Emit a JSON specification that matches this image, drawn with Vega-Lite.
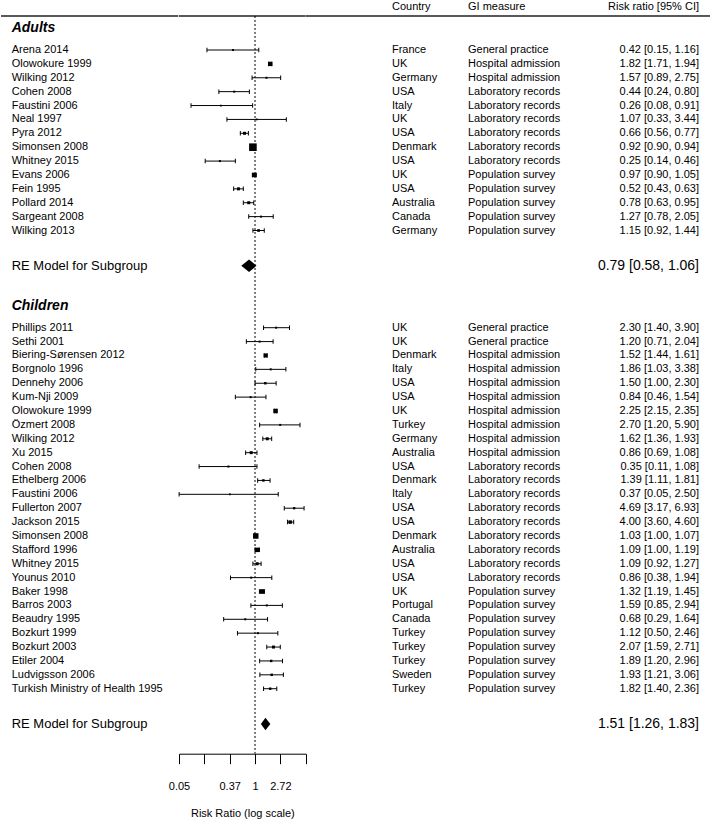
{
  "$schema": "https://vega.github.io/schema/vega-lite/v6.json",
  "padding": 0,
  "spacing": 0,
  "bounds": "flush",
  "background": "white",
  "config": {"view": {"stroke": null}, "font": "Liberation Sans", "text": {"color": "black", "font": "Liberation Sans"}},
  "datasets": {
    "groups": [{"group": "Adults", "row": 0}, {"group": "Children", "row": 20}],
    "pooled": [{"group": "Adults", "rr": 0.79, "lo": 0.58, "hi": 1.06, "row": 17}, {"group": "Children", "rr": 1.51, "lo": 1.26, "hi": 1.83, "row": 50}],
    "studies": [
      {"group": "Adults", "study": "Arena 2014", "country": "France", "measure": "General practice", "rr": 0.42, "lo": 0.15, "hi": 1.16, "weight": 4, "row": 2},
      {"group": "Adults", "study": "Olowokure 1999", "country": "UK", "measure": "Hospital admission", "rr": 1.82, "lo": 1.71, "hi": 1.94, "weight": 18.5, "row": 3},
      {"group": "Adults", "study": "Wilking 2012", "country": "Germany", "measure": "Hospital admission", "rr": 1.57, "lo": 0.89, "hi": 2.75, "weight": 4, "row": 4},
      {"group": "Adults", "study": "Cohen 2008", "country": "USA", "measure": "Laboratory records", "rr": 0.44, "lo": 0.24, "hi": 0.80, "weight": 4, "row": 5},
      {"group": "Adults", "study": "Faustini 2006", "country": "Italy", "measure": "Laboratory records", "rr": 0.26, "lo": 0.08, "hi": 0.91, "weight": 3, "row": 6},
      {"group": "Adults", "study": "Neal 1997", "country": "UK", "measure": "Laboratory records", "rr": 1.07, "lo": 0.33, "hi": 3.44, "weight": 3.2, "row": 7},
      {"group": "Adults", "study": "Pyra 2012", "country": "USA", "measure": "Laboratory records", "rr": 0.66, "lo": 0.56, "hi": 0.77, "weight": 9, "row": 8},
      {"group": "Adults", "study": "Simonsen 2008", "country": "Denmark", "measure": "Laboratory records", "rr": 0.92, "lo": 0.90, "hi": 0.94, "weight": 58, "row": 9},
      {"group": "Adults", "study": "Whitney 2015", "country": "USA", "measure": "Laboratory records", "rr": 0.25, "lo": 0.14, "hi": 0.46, "weight": 4, "row": 10},
      {"group": "Adults", "study": "Evans 2006", "country": "UK", "measure": "Population survey", "rr": 0.97, "lo": 0.90, "hi": 1.05, "weight": 20, "row": 11},
      {"group": "Adults", "study": "Fein 1995", "country": "USA", "measure": "Population survey", "rr": 0.52, "lo": 0.43, "hi": 0.63, "weight": 9, "row": 12},
      {"group": "Adults", "study": "Pollard 2014", "country": "Australia", "measure": "Population survey", "rr": 0.78, "lo": 0.63, "hi": 0.95, "weight": 9, "row": 13},
      {"group": "Adults", "study": "Sargeant 2008", "country": "Canada", "measure": "Population survey", "rr": 1.27, "lo": 0.78, "hi": 2.05, "weight": 4, "row": 14},
      {"group": "Adults", "study": "Wilking 2013", "country": "Germany", "measure": "Population survey", "rr": 1.15, "lo": 0.92, "hi": 1.44, "weight": 7.3, "row": 15},
      {"group": "Children", "study": "Phillips 2011", "country": "UK", "measure": "General practice", "rr": 2.30, "lo": 1.40, "hi": 3.90, "weight": 4, "row": 22},
      {"group": "Children", "study": "Sethi 2001", "country": "UK", "measure": "General practice", "rr": 1.20, "lo": 0.71, "hi": 2.04, "weight": 4, "row": 23},
      {"group": "Children", "study": "Biering-Sørensen 2012", "country": "Denmark", "measure": "Hospital admission", "rr": 1.52, "lo": 1.44, "hi": 1.61, "weight": 16, "row": 24},
      {"group": "Children", "study": "Borgnolo 1996", "country": "Italy", "measure": "Hospital admission", "rr": 1.86, "lo": 1.03, "hi": 3.38, "weight": 4, "row": 25},
      {"group": "Children", "study": "Dennehy 2006", "country": "USA", "measure": "Hospital admission", "rr": 1.50, "lo": 1.00, "hi": 2.30, "weight": 6, "row": 26},
      {"group": "Children", "study": "Kum-Nji 2009", "country": "USA", "measure": "Hospital admission", "rr": 0.84, "lo": 0.46, "hi": 1.54, "weight": 4, "row": 27},
      {"group": "Children", "study": "Olowokure 1999", "country": "UK", "measure": "Hospital admission", "rr": 2.25, "lo": 2.15, "hi": 2.35, "weight": 20, "row": 28},
      {"group": "Children", "study": "Özmert 2008", "country": "Turkey", "measure": "Hospital admission", "rr": 2.70, "lo": 1.20, "hi": 5.90, "weight": 4, "row": 29},
      {"group": "Children", "study": "Wilking 2012", "country": "Germany", "measure": "Hospital admission", "rr": 1.62, "lo": 1.36, "hi": 1.93, "weight": 9, "row": 30},
      {"group": "Children", "study": "Xu 2015", "country": "Australia", "measure": "Hospital admission", "rr": 0.86, "lo": 0.69, "hi": 1.08, "weight": 9, "row": 31},
      {"group": "Children", "study": "Cohen 2008", "country": "USA", "measure": "Laboratory records", "rr": 0.35, "lo": 0.11, "hi": 1.08, "weight": 4, "row": 32},
      {"group": "Children", "study": "Ethelberg 2006", "country": "Denmark", "measure": "Laboratory records", "rr": 1.39, "lo": 1.11, "hi": 1.81, "weight": 6, "row": 33},
      {"group": "Children", "study": "Faustini 2006", "country": "Italy", "measure": "Laboratory records", "rr": 0.37, "lo": 0.05, "hi": 2.50, "weight": 3.2, "row": 34},
      {"group": "Children", "study": "Fullerton 2007", "country": "USA", "measure": "Laboratory records", "rr": 4.69, "lo": 3.17, "hi": 6.93, "weight": 5.3, "row": 35},
      {"group": "Children", "study": "Jackson 2015", "country": "USA", "measure": "Laboratory records", "rr": 4.00, "lo": 3.60, "hi": 4.60, "weight": 12, "row": 36},
      {"group": "Children", "study": "Simonsen 2008", "country": "Denmark", "measure": "Laboratory records", "rr": 1.03, "lo": 1.00, "hi": 1.07, "weight": 30, "row": 37},
      {"group": "Children", "study": "Stafford 1996", "country": "Australia", "measure": "Laboratory records", "rr": 1.09, "lo": 1.00, "hi": 1.19, "weight": 20, "row": 38},
      {"group": "Children", "study": "Whitney 2015", "country": "USA", "measure": "Laboratory records", "rr": 1.09, "lo": 0.92, "hi": 1.27, "weight": 9, "row": 39},
      {"group": "Children", "study": "Younus 2010", "country": "USA", "measure": "Laboratory records", "rr": 0.86, "lo": 0.38, "hi": 1.94, "weight": 4, "row": 40},
      {"group": "Children", "study": "Baker 1998", "country": "UK", "measure": "Population survey", "rr": 1.32, "lo": 1.19, "hi": 1.45, "weight": 22, "row": 41},
      {"group": "Children", "study": "Barros 2003", "country": "Portugal", "measure": "Population survey", "rr": 1.59, "lo": 0.85, "hi": 2.94, "weight": 4, "row": 42},
      {"group": "Children", "study": "Beaudry 1995", "country": "Canada", "measure": "Population survey", "rr": 0.68, "lo": 0.29, "hi": 1.64, "weight": 4, "row": 43},
      {"group": "Children", "study": "Bozkurt 1999", "country": "Turkey", "measure": "Population survey", "rr": 1.12, "lo": 0.50, "hi": 2.46, "weight": 4, "row": 44},
      {"group": "Children", "study": "Bozkurt 2003", "country": "Turkey", "measure": "Population survey", "rr": 2.07, "lo": 1.59, "hi": 2.71, "weight": 9, "row": 45},
      {"group": "Children", "study": "Etiler 2004", "country": "Turkey", "measure": "Population survey", "rr": 1.89, "lo": 1.20, "hi": 2.96, "weight": 6, "row": 46},
      {"group": "Children", "study": "Ludvigsson 2006", "country": "Sweden", "measure": "Population survey", "rr": 1.93, "lo": 1.21, "hi": 3.06, "weight": 6, "row": 47},
      {"group": "Children", "study": "Turkish Ministry of Health 1995", "country": "Turkey", "measure": "Population survey", "rr": 1.82, "lo": 1.40, "hi": 2.36, "weight": 6, "row": 48}
    ]
  },
  "hconcat": [
    {
      "width": 177.3, "height": 750.7,
      "layer": [
        {"data": {"values": [{}]}, "mark": {"type": "rule", "color": "#222222", "strokeWidth": 1.5}, "encoding": {"y": {"datum": -0.45, "type": "quantitative", "scale": {"domain": [-1.385, 52.68], "reverse": true, "nice": false, "zero": false}, "axis": null}}},
        {"data": {"name": "groups"}, "mark": {"type": "text", "align": "left", "baseline": "middle", "dx": 10.7, "yOffset": 6, "fontSize": 14, "fontWeight": "bold", "fontStyle": "italic"}, "encoding": {"x": {"datum": 0, "type": "quantitative", "scale": {"domain": [0, 1]}, "axis": null}, "y": {"field": "row", "type": "quantitative", "scale": {"domain": [-1.385, 52.68], "reverse": true, "nice": false, "zero": false}, "axis": null}, "text": {"field": "group"}}},
        {"data": {"name": "studies"}, "mark": {"type": "text", "align": "left", "baseline": "middle", "dx": 10.7, "fontSize": 11}, "encoding": {"x": {"datum": 0, "type": "quantitative", "scale": {"domain": [0, 1]}, "axis": null}, "y": {"field": "row", "type": "quantitative", "scale": {"domain": [-1.385, 52.68], "reverse": true, "nice": false, "zero": false}, "axis": null}, "text": {"field": "study"}}},
        {"data": {"name": "pooled"}, "mark": {"type": "text", "align": "left", "baseline": "middle", "dx": 10.7, "yOffset": 7.5, "fontSize": 13}, "encoding": {"x": {"datum": 0, "type": "quantitative", "scale": {"domain": [0, 1]}, "axis": null}, "y": {"field": "row", "type": "quantitative", "scale": {"domain": [-1.385, 52.68], "reverse": true, "nice": false, "zero": false}, "axis": null}, "text": {"value": "RE Model for Subgroup"}}}
      ]
    },
    {
      "width": 126.7, "height": 750.7,
      "layer": [
        {"data": {"values": [{}]}, "mark": {"type": "rule", "color": "#222222", "strokeWidth": 1.5}, "encoding": {"y": {"datum": -0.45, "type": "quantitative", "scale": {"domain": [-1.385, 52.68], "reverse": true, "nice": false, "zero": false}, "axis": null}}},
        {"data": {"values": [{}]}, "mark": {"type": "rule", "color": "black", "strokeWidth": 1, "strokeDash": [2, 2]},
         "encoding": {
           "x": {"datum": 1, "type": "quantitative", "scale": {"type": "log", "domain": [0.049787, 7.389056], "nice": false}, "axis": {"values": [0.049787, 0.135335, 0.367879, 1, 2.718282, 7.389056], "labelExpr": "datum.value < 0.1 ? '0.05' : datum.value < 0.2 ? '' : datum.value < 0.5 ? '0.37' : datum.value < 1.5 ? '1' : datum.value < 5 ? '2.72' : ''", "title": "Risk Ratio (log scale)", "grid": false, "tickSize": 10, "tickColor": "black", "tickWidth": 1, "domainColor": "black", "domainWidth": 1, "labelColor": "black", "titleColor": "black", "labelFontSize": 11, "titleFontSize": 11, "titleFontWeight": "normal", "labelPadding": 17, "titlePadding": 16, "labelFlush": false, "labelOverlap": false, "labelFont": "Liberation Sans", "titleFont": "Liberation Sans"}},
           "y": {"datum": -0.45, "type": "quantitative", "scale": {"domain": [-1.385, 52.68], "reverse": true, "nice": false, "zero": false}, "axis": null},
           "y2": {"datum": 52.68}
         }},
        {"data": {"name": "studies"}, "mark": {"type": "rule", "color": "black", "strokeWidth": 1},
         "encoding": {
           "x": {"field": "lo", "type": "quantitative", "scale": {"type": "log", "domain": [0.049787, 7.389056], "nice": false}, "axis": {"values": [0.049787, 0.135335, 0.367879, 1, 2.718282, 7.389056], "labelExpr": "datum.value < 0.1 ? '0.05' : datum.value < 0.2 ? '' : datum.value < 0.5 ? '0.37' : datum.value < 1.5 ? '1' : datum.value < 5 ? '2.72' : ''", "title": "Risk Ratio (log scale)", "grid": false, "tickSize": 10, "tickColor": "black", "tickWidth": 1, "domainColor": "black", "domainWidth": 1, "labelColor": "black", "titleColor": "black", "labelFontSize": 11, "titleFontSize": 11, "titleFontWeight": "normal", "labelPadding": 17, "titlePadding": 16, "labelFlush": false, "labelOverlap": false, "labelFont": "Liberation Sans", "titleFont": "Liberation Sans"}},
           "x2": {"field": "hi"},
           "y": {"field": "row", "type": "quantitative", "scale": {"domain": [-1.385, 52.68], "reverse": true, "nice": false, "zero": false}, "axis": null}
         }},
        {"data": {"name": "studies"}, "mark": {"type": "tick", "orient": "vertical", "color": "black", "size": 4.5, "thickness": 1, "opacity": 1},
         "encoding": {
           "x": {"field": "lo", "type": "quantitative", "scale": {"type": "log", "domain": [0.049787, 7.389056], "nice": false}, "axis": {"values": [0.049787, 0.135335, 0.367879, 1, 2.718282, 7.389056], "labelExpr": "datum.value < 0.1 ? '0.05' : datum.value < 0.2 ? '' : datum.value < 0.5 ? '0.37' : datum.value < 1.5 ? '1' : datum.value < 5 ? '2.72' : ''", "title": "Risk Ratio (log scale)", "grid": false, "tickSize": 10, "tickColor": "black", "tickWidth": 1, "domainColor": "black", "domainWidth": 1, "labelColor": "black", "titleColor": "black", "labelFontSize": 11, "titleFontSize": 11, "titleFontWeight": "normal", "labelPadding": 17, "titlePadding": 16, "labelFlush": false, "labelOverlap": false, "labelFont": "Liberation Sans", "titleFont": "Liberation Sans"}},
           "y": {"field": "row", "type": "quantitative", "scale": {"domain": [-1.385, 52.68], "reverse": true, "nice": false, "zero": false}, "axis": null}
         }},
        {"data": {"name": "studies"}, "mark": {"type": "tick", "orient": "vertical", "color": "black", "size": 4.5, "thickness": 1, "opacity": 1},
         "encoding": {
           "x": {"field": "hi", "type": "quantitative", "scale": {"type": "log", "domain": [0.049787, 7.389056], "nice": false}, "axis": {"values": [0.049787, 0.135335, 0.367879, 1, 2.718282, 7.389056], "labelExpr": "datum.value < 0.1 ? '0.05' : datum.value < 0.2 ? '' : datum.value < 0.5 ? '0.37' : datum.value < 1.5 ? '1' : datum.value < 5 ? '2.72' : ''", "title": "Risk Ratio (log scale)", "grid": false, "tickSize": 10, "tickColor": "black", "tickWidth": 1, "domainColor": "black", "domainWidth": 1, "labelColor": "black", "titleColor": "black", "labelFontSize": 11, "titleFontSize": 11, "titleFontWeight": "normal", "labelPadding": 17, "titlePadding": 16, "labelFlush": false, "labelOverlap": false, "labelFont": "Liberation Sans", "titleFont": "Liberation Sans"}},
           "y": {"field": "row", "type": "quantitative", "scale": {"domain": [-1.385, 52.68], "reverse": true, "nice": false, "zero": false}, "axis": null}
         }},
        {"data": {"name": "studies"}, "mark": {"type": "point", "shape": "square", "filled": true, "color": "black", "opacity": 1, "strokeWidth": 0},
         "encoding": {
           "x": {"field": "rr", "type": "quantitative", "scale": {"type": "log", "domain": [0.049787, 7.389056], "nice": false}, "axis": {"values": [0.049787, 0.135335, 0.367879, 1, 2.718282, 7.389056], "labelExpr": "datum.value < 0.1 ? '0.05' : datum.value < 0.2 ? '' : datum.value < 0.5 ? '0.37' : datum.value < 1.5 ? '1' : datum.value < 5 ? '2.72' : ''", "title": "Risk Ratio (log scale)", "grid": false, "tickSize": 10, "tickColor": "black", "tickWidth": 1, "domainColor": "black", "domainWidth": 1, "labelColor": "black", "titleColor": "black", "labelFontSize": 11, "titleFontSize": 11, "titleFontWeight": "normal", "labelPadding": 17, "titlePadding": 16, "labelFlush": false, "labelOverlap": false, "labelFont": "Liberation Sans", "titleFont": "Liberation Sans"}},
           "y": {"field": "row", "type": "quantitative", "scale": {"domain": [-1.385, 52.68], "reverse": true, "nice": false, "zero": false}, "axis": null},
           "size": {"field": "weight", "type": "quantitative", "scale": {"domain": [0, 60], "range": [0, 60]}, "legend": null}
         }},
        {"data": {"name": "pooled"},
         "transform": [
           {"fold": ["lo", "rr", "hi"], "as": ["k", "v"]},
           {"calculate": "datum.row - (datum.k === 'rr' ? 0.45 : 0)", "as": "top"},
           {"calculate": "datum.row + (datum.k === 'rr' ? 0.45 : 0)", "as": "bot"}
         ],
         "mark": {"type": "area", "color": "black", "opacity": 1, "yOffset": 7.5, "y2Offset": 7.5},
         "encoding": {
           "x": {"field": "v", "type": "quantitative", "scale": {"type": "log", "domain": [0.049787, 7.389056], "nice": false}, "axis": {"values": [0.049787, 0.135335, 0.367879, 1, 2.718282, 7.389056], "labelExpr": "datum.value < 0.1 ? '0.05' : datum.value < 0.2 ? '' : datum.value < 0.5 ? '0.37' : datum.value < 1.5 ? '1' : datum.value < 5 ? '2.72' : ''", "title": "Risk Ratio (log scale)", "grid": false, "tickSize": 10, "tickColor": "black", "tickWidth": 1, "domainColor": "black", "domainWidth": 1, "labelColor": "black", "titleColor": "black", "labelFontSize": 11, "titleFontSize": 11, "titleFontWeight": "normal", "labelPadding": 17, "titlePadding": 16, "labelFlush": false, "labelOverlap": false, "labelFont": "Liberation Sans", "titleFont": "Liberation Sans"}},
           "y": {"field": "top", "type": "quantitative", "scale": {"domain": [-1.385, 52.68], "reverse": true, "nice": false, "zero": false}, "axis": null},
           "y2": {"field": "bot"},
           "detail": {"field": "group"}
         }}
      ]
    },
    {
      "width": 86, "height": 750.7,
      "layer": [
        {"data": {"values": [{}]}, "mark": {"type": "rule", "color": "#222222", "strokeWidth": 1.5}, "encoding": {"y": {"datum": -0.45, "type": "quantitative", "scale": {"domain": [-1.385, 52.68], "reverse": true, "nice": false, "zero": false}, "axis": null}}}
      ]
    },
    {
      "width": 76, "height": 750.7,
      "layer": [
        {"data": {"values": [{}]}, "mark": {"type": "rule", "color": "#222222", "strokeWidth": 1.5}, "encoding": {"y": {"datum": -0.45, "type": "quantitative", "scale": {"domain": [-1.385, 52.68], "reverse": true, "nice": false, "zero": false}, "axis": null}}},
        {"data": {"values": [{}]}, "mark": {"type": "text", "align": "left", "baseline": "middle", "fontSize": 11, "text": "Country"}, "encoding": {"x": {"datum": 0, "type": "quantitative", "scale": {"domain": [0, 1]}, "axis": null}, "y": {"datum": -1.1, "type": "quantitative", "scale": {"domain": [-1.385, 52.68], "reverse": true, "nice": false, "zero": false}, "axis": null}}},
        {"data": {"name": "studies"}, "mark": {"type": "text", "align": "left", "baseline": "middle", "fontSize": 11}, "encoding": {"x": {"datum": 0, "type": "quantitative", "scale": {"domain": [0, 1]}, "axis": null}, "y": {"field": "row", "type": "quantitative", "scale": {"domain": [-1.385, 52.68], "reverse": true, "nice": false, "zero": false}, "axis": null}, "text": {"field": "country"}}}
      ]
    },
    {
      "width": 124, "height": 750.7,
      "layer": [
        {"data": {"values": [{}]}, "mark": {"type": "rule", "color": "#222222", "strokeWidth": 1.5}, "encoding": {"y": {"datum": -0.45, "type": "quantitative", "scale": {"domain": [-1.385, 52.68], "reverse": true, "nice": false, "zero": false}, "axis": null}}},
        {"data": {"values": [{}]}, "mark": {"type": "text", "align": "left", "baseline": "middle", "fontSize": 11, "text": "GI measure"}, "encoding": {"x": {"datum": 0, "type": "quantitative", "scale": {"domain": [0, 1]}, "axis": null}, "y": {"datum": -1.1, "type": "quantitative", "scale": {"domain": [-1.385, 52.68], "reverse": true, "nice": false, "zero": false}, "axis": null}}},
        {"data": {"name": "studies"}, "mark": {"type": "text", "align": "left", "baseline": "middle", "fontSize": 11}, "encoding": {"x": {"datum": 0, "type": "quantitative", "scale": {"domain": [0, 1]}, "axis": null}, "y": {"field": "row", "type": "quantitative", "scale": {"domain": [-1.385, 52.68], "reverse": true, "nice": false, "zero": false}, "axis": null}, "text": {"field": "measure"}}}
      ]
    },
    {
      "width": 107, "height": 750.7,
      "layer": [
        {"data": {"values": [{}]}, "mark": {"type": "rule", "color": "#222222", "strokeWidth": 1.5}, "encoding": {"y": {"datum": -0.45, "type": "quantitative", "scale": {"domain": [-1.385, 52.68], "reverse": true, "nice": false, "zero": false}, "axis": null}}},
        {"data": {"values": [{}]}, "mark": {"type": "text", "align": "right", "baseline": "middle", "fontSize": 11, "text": "Risk ratio [95% CI]"}, "encoding": {"x": {"datum": 1, "type": "quantitative", "scale": {"domain": [0, 1]}, "axis": null}, "y": {"datum": -1.1, "type": "quantitative", "scale": {"domain": [-1.385, 52.68], "reverse": true, "nice": false, "zero": false}, "axis": null}}},
        {"data": {"name": "studies"},
         "transform": [{"calculate": "format(datum.rr, '.2f') + ' [' + format(datum.lo, '.2f') + ', ' + format(datum.hi, '.2f') + ']'", "as": "label"}],
         "mark": {"type": "text", "align": "right", "baseline": "middle", "fontSize": 11}, "encoding": {"x": {"datum": 1, "type": "quantitative", "scale": {"domain": [0, 1]}, "axis": null}, "y": {"field": "row", "type": "quantitative", "scale": {"domain": [-1.385, 52.68], "reverse": true, "nice": false, "zero": false}, "axis": null}, "text": {"field": "label"}}},
        {"data": {"name": "pooled"},
         "transform": [{"calculate": "format(datum.rr, '.2f') + ' [' + format(datum.lo, '.2f') + ', ' + format(datum.hi, '.2f') + ']'", "as": "label"}],
         "mark": {"type": "text", "align": "right", "baseline": "middle", "fontSize": 14, "yOffset": 7.5}, "encoding": {"x": {"datum": 1, "type": "quantitative", "scale": {"domain": [0, 1]}, "axis": null}, "y": {"field": "row", "type": "quantitative", "scale": {"domain": [-1.385, 52.68], "reverse": true, "nice": false, "zero": false}, "axis": null}, "text": {"field": "label"}}}
      ]
    },
    {
      "width": 13, "height": 750.7,
      "layer": [
        {"data": {"values": [{}]}, "mark": {"type": "rule", "color": "#222222", "strokeWidth": 1.5}, "encoding": {"y": {"datum": -0.45, "type": "quantitative", "scale": {"domain": [-1.385, 52.68], "reverse": true, "nice": false, "zero": false}, "axis": null}}}
      ]
    }
  ]
}
